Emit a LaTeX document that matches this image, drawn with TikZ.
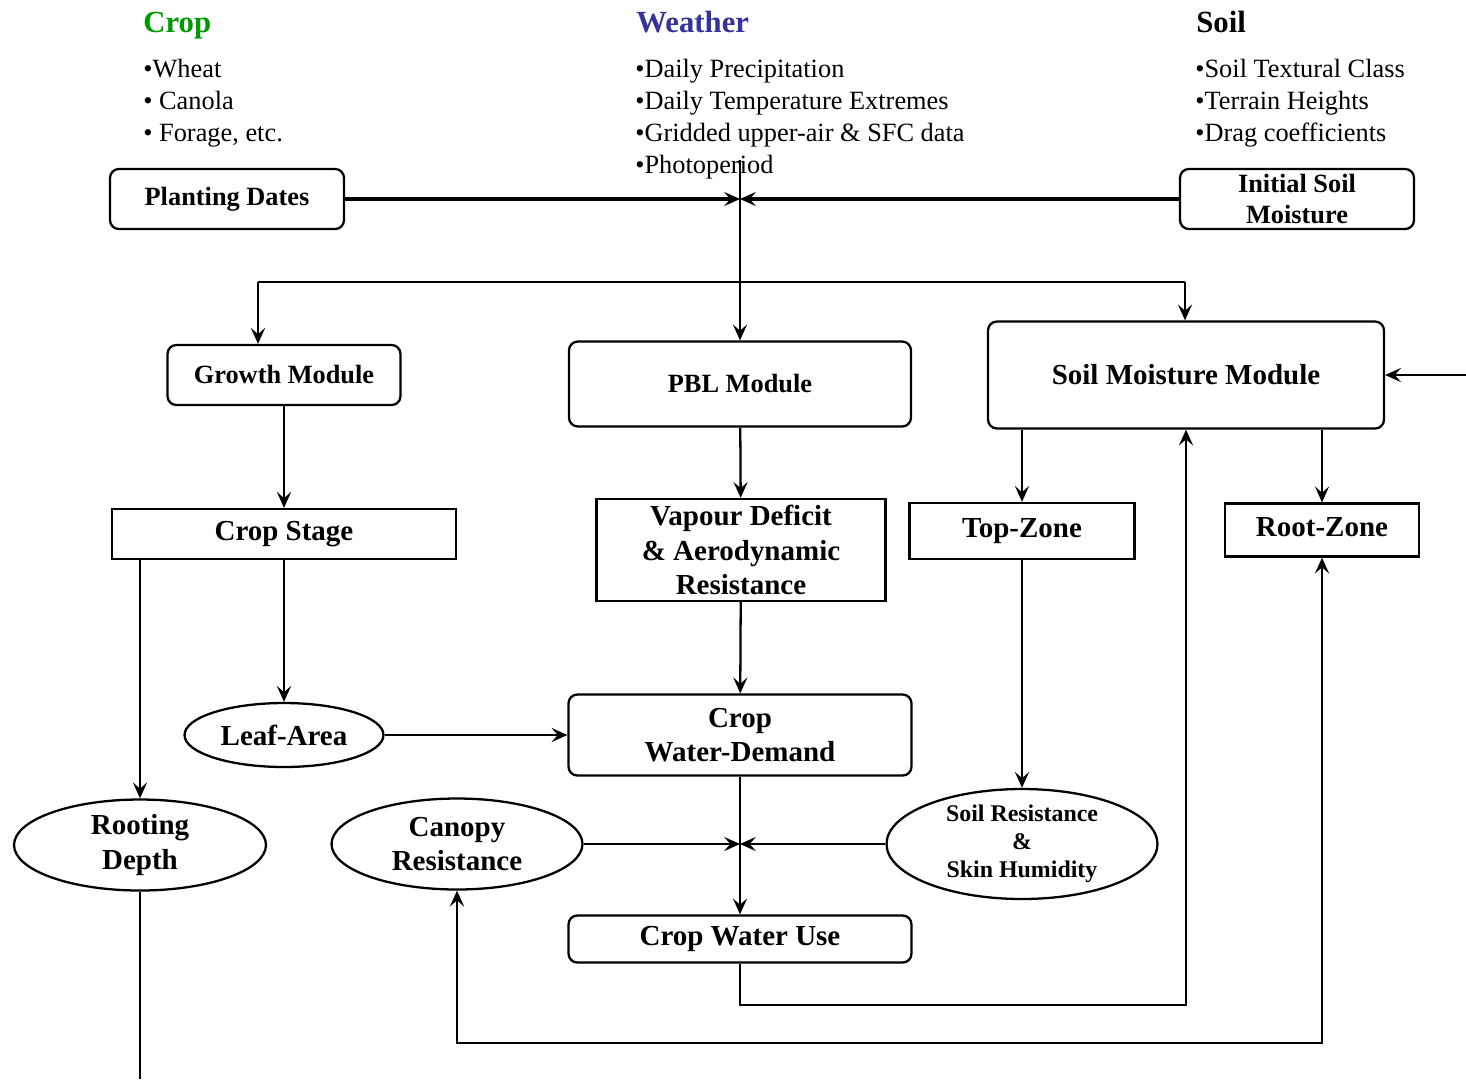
\documentclass[tikz,border=0pt]{standalone}
\usepackage{fontspec}
\setmainfont{Liberation Serif}
\usepackage{xcolor}
\definecolor{CropGreen}{RGB}{0,153,0}
\definecolor{WeatherBlue}{RGB}{51,51,153}
\usetikzlibrary{arrows.meta, positioning, shapes.geometric}

\begin{document}
\begin{tikzpicture}[x=0.02cm, y=-0.02cm,
		% headings and bullet lists
		headText/.style={anchor=base west, inner sep=0pt, font=\bfseries\fontsize{17.5}{21}\selectfont},
		listText/.style={anchor=base west, inner sep=0pt, align=left, font=\fontsize{15}{18.1}\selectfont},
		% boxes
		roundBox/.style={draw, rounded corners=5pt, line width=1.3pt, align=center, inner sep=0pt,
			font=\bfseries\fontsize{16.5}{19.6}\selectfont},
		plainBox/.style={draw, line width=1.3pt, align=center, inner sep=0pt,
			font=\bfseries\fontsize{16.5}{19.6}\selectfont},
		ovalBox/.style={draw, ellipse, line width=1.3pt, align=center, inner sep=0pt,
			font=\bfseries\fontsize{16.5}{19.4}\selectfont},
		smallText/.style={font=\bfseries\fontsize{15}{18}\selectfont},
		% connectors
		flow/.style={line width=1.3pt, -{Stealth[length=9pt, width=8pt, inset=3.5pt]}},
		flowThick/.style={line width=1.8pt, -{Stealth[length=9pt, width=8pt, inset=3.5pt]}},
		flowBoth/.style={line width=1.3pt, {Stealth[length=9pt, width=8pt, inset=3.5pt]}-{Stealth[length=9pt, width=8pt, inset=3.5pt]}}
	]
	\useasboundingbox (0,0) rectangle (1466,1079);
	
	% input headings
	\node[headText, text=CropGreen] (cropHead) at (143,32) {Crop};
	\node[headText, text=WeatherBlue] (weatherHead) at (636,32) {Weather};
	\node[headText] (soilHead) at (1196,32) {Soil};
	
	% input lists (anchored on the last line)
	\node[listText] (cropList) at (143,141) {•Wheat\\• Canola\\• Forage, etc.};
	\node[listText] (weatherList) at (635,173) {•Daily Precipitation\\•Daily Temperature Extremes\\•Gridded upper-air \& SFC data\\•Photoperiod};
	\node[listText] (soilList) at (1195,141) {•Soil Textural Class\\•Terrain Heights\\•Drag coefficients};
	
	% initial values
	\node[roundBox, smallText, minimum width=4.68cm, minimum height=1.2cm] (planting) at (227,199) {Planting Dates};
	\node[roundBox, smallText, minimum width=4.68cm, minimum height=1.2cm] (initSoil) at (1297,199) {Initial Soil\\Moisture};
	
	% modules
	\node[roundBox, smallText, minimum width=4.66cm, minimum height=1.2cm] (growth) at (284,375) {Growth Module};
	\node[roundBox, smallText, minimum width=6.84cm, minimum height=1.7cm] (pbl) at (740,384) {PBL Module};
	\node[roundBox, minimum width=7.92cm, minimum height=2.14cm] (soilMod) at (1186,375) {Soil Moisture Module};
	
	% second row
	\node[plainBox, minimum width=6.88cm, minimum height=1.0cm] (cropStage) at (284,534) {Crop Stage};
	\node[plainBox, minimum width=5.78cm, minimum height=2.04cm] (vapour) at (741,550) {Vapour Deficit\\\& Aerodynamic\\Resistance};
	\node[plainBox, minimum width=4.5cm, minimum height=1.12cm] (topZone) at (1022,531) {Top-Zone\strut};
	\node[plainBox, minimum width=3.88cm, minimum height=1.06cm] (rootZone) at (1322,530) {Root-Zone\strut};
	
	% demand
	\node[ovalBox, minimum width=3.98cm, minimum height=1.28cm] (leafArea) at (284,735) {Leaf-Area};
	\node[roundBox, minimum width=6.86cm, minimum height=1.62cm] (demand) at (740,735) {Crop\\Water-Demand};
	
	% resistances
	\node[ovalBox, minimum width=5.04cm, minimum height=1.82cm] (rooting) at (140,845) {Rooting\\Depth};
	\node[ovalBox, minimum width=5.02cm, minimum height=1.82cm] (canopy) at (457,844) {Canopy\\Resistance};
	\node[ovalBox, minimum width=5.42cm, minimum height=2.2cm, font=\bfseries\fontsize{13.6}{15.9}\selectfont] (soilRes) at (1022,844) {Soil Resistance\\\&\\Skin Humidity};
	
	% water use
	\node[roundBox, minimum width=6.86cm, minimum height=0.94cm] (waterUse) at (740,939) {Crop Water Use};
	
	% junctions and free ends
	\coordinate (wxIn) at (740,160);
	\coordinate (topJoin) at (740,199);
	\coordinate (splitL) at (258,282);
	\coordinate (splitR) at (1185,282);
	\coordinate (sideIn) at (1466,375);
	\coordinate (useJoin) at (740,844);
	\coordinate (backA) at (1186,1005);
	\coordinate (loopL) at (457,1043);
	\coordinate (loopR) at (1322,1043);
	\coordinate (rootOut) at (140,1079);
	
	% top connectors
	\draw[flowThick] (planting.east) -- (topJoin);
	\draw[flowThick] (initSoil.west) -- (topJoin);
	\draw[flow] (wxIn) -- (pbl.north);
	\draw[line width=1.3pt] (splitL) -- (splitR);
	\draw[flow] (splitL) -- (splitL |- growth.north);
	\draw[flow] (splitR) -- (splitR |- soilMod.north);
	\draw[flow] (sideIn) -- (soilMod.east);
	
	% crop side
	\draw[flow] (growth) -- (cropStage);
	\draw[flow] (cropStage) -- (leafArea);
	\draw[flow] (cropStage.south -| rooting.north) -- (rooting.north);
	\draw[line width=1.3pt] (rooting.south) -- (rootOut);
	\draw[flow] (leafArea.east) -- (demand.west);
	
	% weather side
	\draw[flow] (pbl) -- (vapour);
	\draw[flow] (vapour) -- (demand);
	\draw[flow] (demand) -- (waterUse);
	\draw[flow] (canopy.east) -- (useJoin);
	\draw[flow] (soilRes.west) -- (useJoin);
	
	% soil side
	\draw[flow] (soilMod.south -| topZone.north) -- (topZone.north);
	\draw[flow] (soilMod.south -| rootZone.north) -- (rootZone.north);
	\draw[flow] (topZone) -- (soilRes);
	
	% feedback loops
	\draw[flow] (waterUse.south) |- (backA) -- (soilMod.south);
	\draw[flowBoth] (canopy.south) -- (loopL) -- (loopR) -- (rootZone.south);
	
\end{tikzpicture}
\end{document}
